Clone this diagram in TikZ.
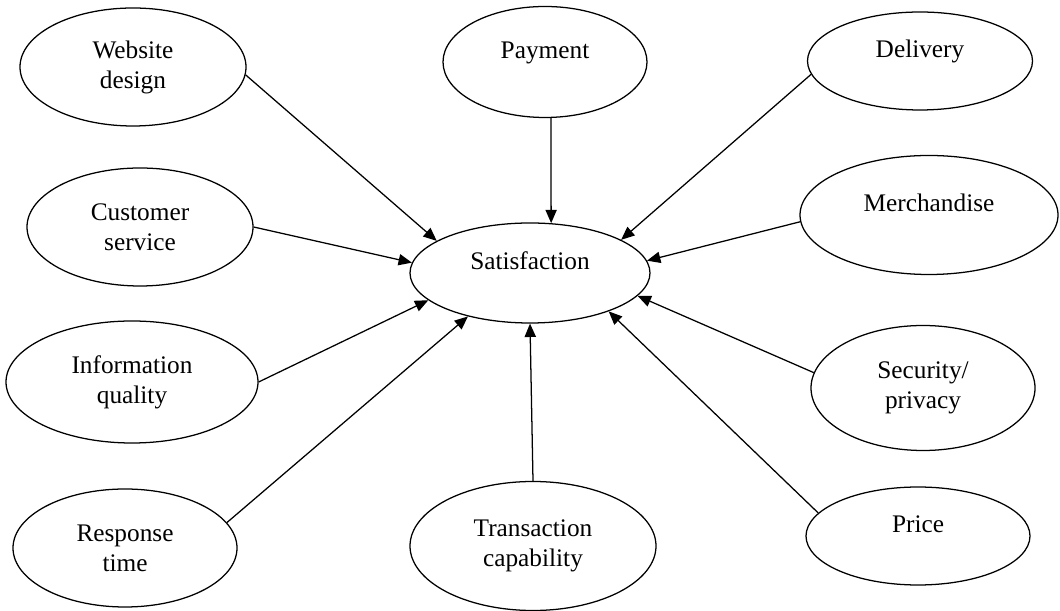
\documentclass[tikz,border=0pt]{standalone}
\usepackage{fontspec}
\setmainfont{Liberation Serif}
\usetikzlibrary{shapes, arrows.meta, positioning}

\begin{document}
\begin{tikzpicture}[
  factor/.style={ellipse, draw, line width=0.9pt, inner sep=0pt, align=center,
    font=\fontsize{18}{21.3}\selectfont},
  oneline/.style={text height=12pt, text depth=17pt},
  link/.style={-{Triangle[length=9.5pt,width=8pt]}, line width=0.9pt}
]
\useasboundingbox (0,0) rectangle (26.5,15.275);
% centre
\node[factor, oneline, minimum width=6cm, minimum height=2.5cm] (sat) at (13.25,8.45) {Satisfaction};
% left column
\node[factor, minimum width=5.65cm, minimum height=2.95cm] (web) at (3.325,13.6) {Website\\design};
\node[factor, minimum width=5.65cm, minimum height=2.95cm] (cust) at (3.5,9.6) {Customer\\service};
\node[factor, minimum width=6.3cm, minimum height=3.05cm] (info) at (3.3,5.725) {Information\\quality};
\node[factor, minimum width=5.6cm, minimum height=2.95cm] (resp) at (3.125,1.575) {Response\\time};
% middle column
\node[factor, oneline, minimum width=5.1cm, minimum height=2.775cm] (pay) at (13.625,13.725) {Payment};
\node[factor, minimum width=6.15cm, minimum height=3.225cm] (trans) at (13.325,1.625) {Transaction\\capability};
% right column
\node[factor, oneline, minimum width=5.625cm, minimum height=2.45cm] (deliv) at (23,13.75) {Delivery};
\node[factor, oneline, minimum width=6.45cm, minimum height=2.975cm] (merch) at (23.225,9.9) {Merchandise};
\node[factor, minimum width=5.6cm, minimum height=3.125cm] (sec) at (23.075,5.575) {Security/\\privacy};
\node[factor, oneline, minimum width=5.6cm, minimum height=2.45cm] (price) at (22.95,1.875) {Price};

% arrows into satisfaction
\draw[link] (web.356) -- (sat.161);
\draw[link] (cust.east) -- (sat.175);
\draw[link] (info.east) -- (sat.195);
\draw[link] (resp.14) -- (sat.215);
\draw[link] (pay.276) -- (sat.67);
\draw[link] (trans.north) -- (sat.south);
\draw[link] (deliv.187) -- (sat.20);
\draw[link] (merch.183) -- (sat.6);
\draw[link] (sec.172) -- (sat.348);
\draw[link] (price.167) -- (sat.334);
\end{tikzpicture}
\end{document}
